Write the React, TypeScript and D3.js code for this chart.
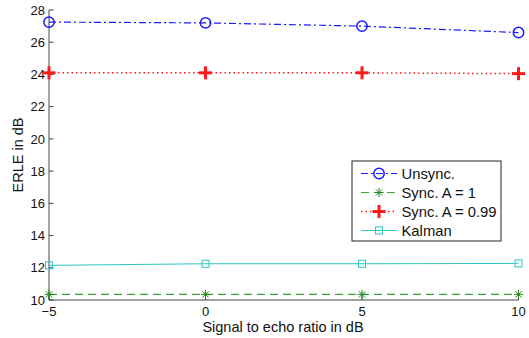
import React from "react";
import * as d3 from "d3";

const snr = [-5, 0, 5, 10];
const unsync = [27.25, 27.2, 27.0, 26.6];
const syncA1 = [10.35, 10.35, 10.35, 10.35];
const syncA099 = [24.1, 24.1, 24.1, 24.05];
const kalman = [12.15, 12.25, 12.25, 12.27];
const xTicks = [-5, 0, 5, 10];
const yTicks = [10, 12, 14, 16, 18, 20, 22, 24, 26, 28];

type Marker = "circle" | "star" | "plus" | "square";
interface Series {
  name: string;
  values: number[];
  color: string;
  dash: string;
  width: number;
  marker: Marker;
}

const series: Series[] = [
  { name: "Unsync.", values: unsync, color: "#1a1aff", dash: "7,3,2,3", width: 1.2, marker: "circle" },
  { name: "Sync. A = 1", values: syncA1, color: "#3aa63a", dash: "8,5", width: 1.2, marker: "star" },
  { name: "Sync. A = 0.99", values: syncA099, color: "#ff1a1a", dash: "1.5,3", width: 1.5, marker: "plus" },
  { name: "Kalman", values: kalman, color: "#2ec4c4", dash: "", width: 1, marker: "square" },
];

const FONT = "Liberation Sans, Arial, sans-serif";

function MarkerShape({ type, x, y, color }: { type: Marker; x: number; y: number; color: string }) {
  if (type === "circle")
    return <circle cx={x} cy={y} r={5.2} fill="none" stroke={color} strokeWidth={1.5} />;
  if (type === "square")
    return <rect x={x - 3.5} y={y - 3.5} width={7} height={7} fill="none" stroke={color} strokeWidth={1} />;
  if (type === "plus")
    return (
      <g stroke={color} strokeWidth={3}>
        <line x1={x - 6.5} y1={y} x2={x + 6.5} y2={y} />
        <line x1={x} y1={y - 6.5} x2={x} y2={y + 6.5} />
      </g>
    );
  const s = 4.5;
  const d = s * 0.707;
  return (
    <g stroke="#1f8a1f" strokeWidth={1}>
      <line x1={x - s} y1={y} x2={x + s} y2={y} />
      <line x1={x} y1={y - s} x2={x} y2={y + s} />
      <line x1={x - d} y1={y - d} x2={x + d} y2={y + d} />
      <line x1={x - d} y1={y + d} x2={x + d} y2={y - d} />
    </g>
  );
}

export default function App() {
  const W = 529;
  const H = 338;
  const x = d3.scaleLinear().domain([-5, 10]).range([49, 518.5]);
  const y = d3.scaleLinear().domain([10, 28]).range([300, 10]);
  const line = d3
    .line<[number, number]>()
    .x((d) => x(d[0]))
    .y((d) => y(d[1]));

  const legX = 352;
  const legY = 161;
  const legW = 149;
  const legH = 80;
  const rowY = [173.5, 192.5, 211.5, 230.5];

  return (
    <svg
      width={W}
      height={H}
      style={{ position: "absolute", left: 0, top: 0, background: "#fff" }}
      fontFamily={FONT}
    >
      {/* axes */}
      <line x1={x(-5)} y1={y(10)} x2={x(10)} y2={y(10)} stroke="#444" strokeWidth={1} />
      <line x1={x(-5)} y1={y(10)} x2={x(-5)} y2={y(28)} stroke="#444" strokeWidth={1} />
      {yTicks.map((t) => (
        <g key={"y" + t}>
          <line x1={x(-5)} x2={x(-5) + 4.5} y1={y(t)} y2={y(t)} stroke="#444" />
          <text x={45} y={y(t)} dy="0.36em" textAnchor="end" fontSize={13} fill="#111">
            {t}
          </text>
        </g>
      ))}
      {xTicks.map((t) => (
        <g key={"x" + t}>
          <line x1={x(t)} x2={x(t)} y1={y(10)} y2={y(10) - 4.5} stroke="#444" />
          <text x={x(t)} y={316} textAnchor="middle" fontSize={13} fill="#111">
            {t === -5 ? "\u22125" : t}
          </text>
        </g>
      ))}
      <text x={283} y={332} textAnchor="middle" fontSize={14.5} fill="#111">
        Signal to echo ratio in dB
      </text>
      <text
        transform={`translate(23,155) rotate(-90)`}
        textAnchor="middle"
        fontSize={14.5}
        fill="#111"
      >
        ERLE in dB
      </text>

      {/* series */}
      {series.map((s) => {
        const pts = snr.map((v, i) => [v, s.values[i]] as [number, number]);
        return (
          <g key={s.name}>
            <path
              d={line(pts) || ""}
              fill="none"
              stroke={s.color}
              strokeWidth={s.width}
              strokeDasharray={s.dash || undefined}
            />
            {pts.map((p, i) => (
              <MarkerShape key={i} type={s.marker} x={x(p[0])} y={y(p[1])} color={s.color} />
            ))}
          </g>
        );
      })}

      {/* legend */}
      <rect x={legX} y={legY} width={legW} height={legH} fill="#fff" stroke="#222" strokeWidth={1} />
      {series.map((s, i) => (
        <g key={"leg" + i}>
          <line
            x1={361}
            x2={397}
            y1={rowY[i]}
            y2={rowY[i]}
            stroke={s.color}
            strokeWidth={s.width}
            strokeDasharray={s.dash || undefined}
          />
          <MarkerShape type={s.marker} x={379} y={rowY[i]} color={s.color} />
          <text x={401.5} y={rowY[i]} dy="0.36em" fontSize={14.8} fill="#111">
            {s.name}
          </text>
        </g>
      ))}
    </svg>
  );
}
